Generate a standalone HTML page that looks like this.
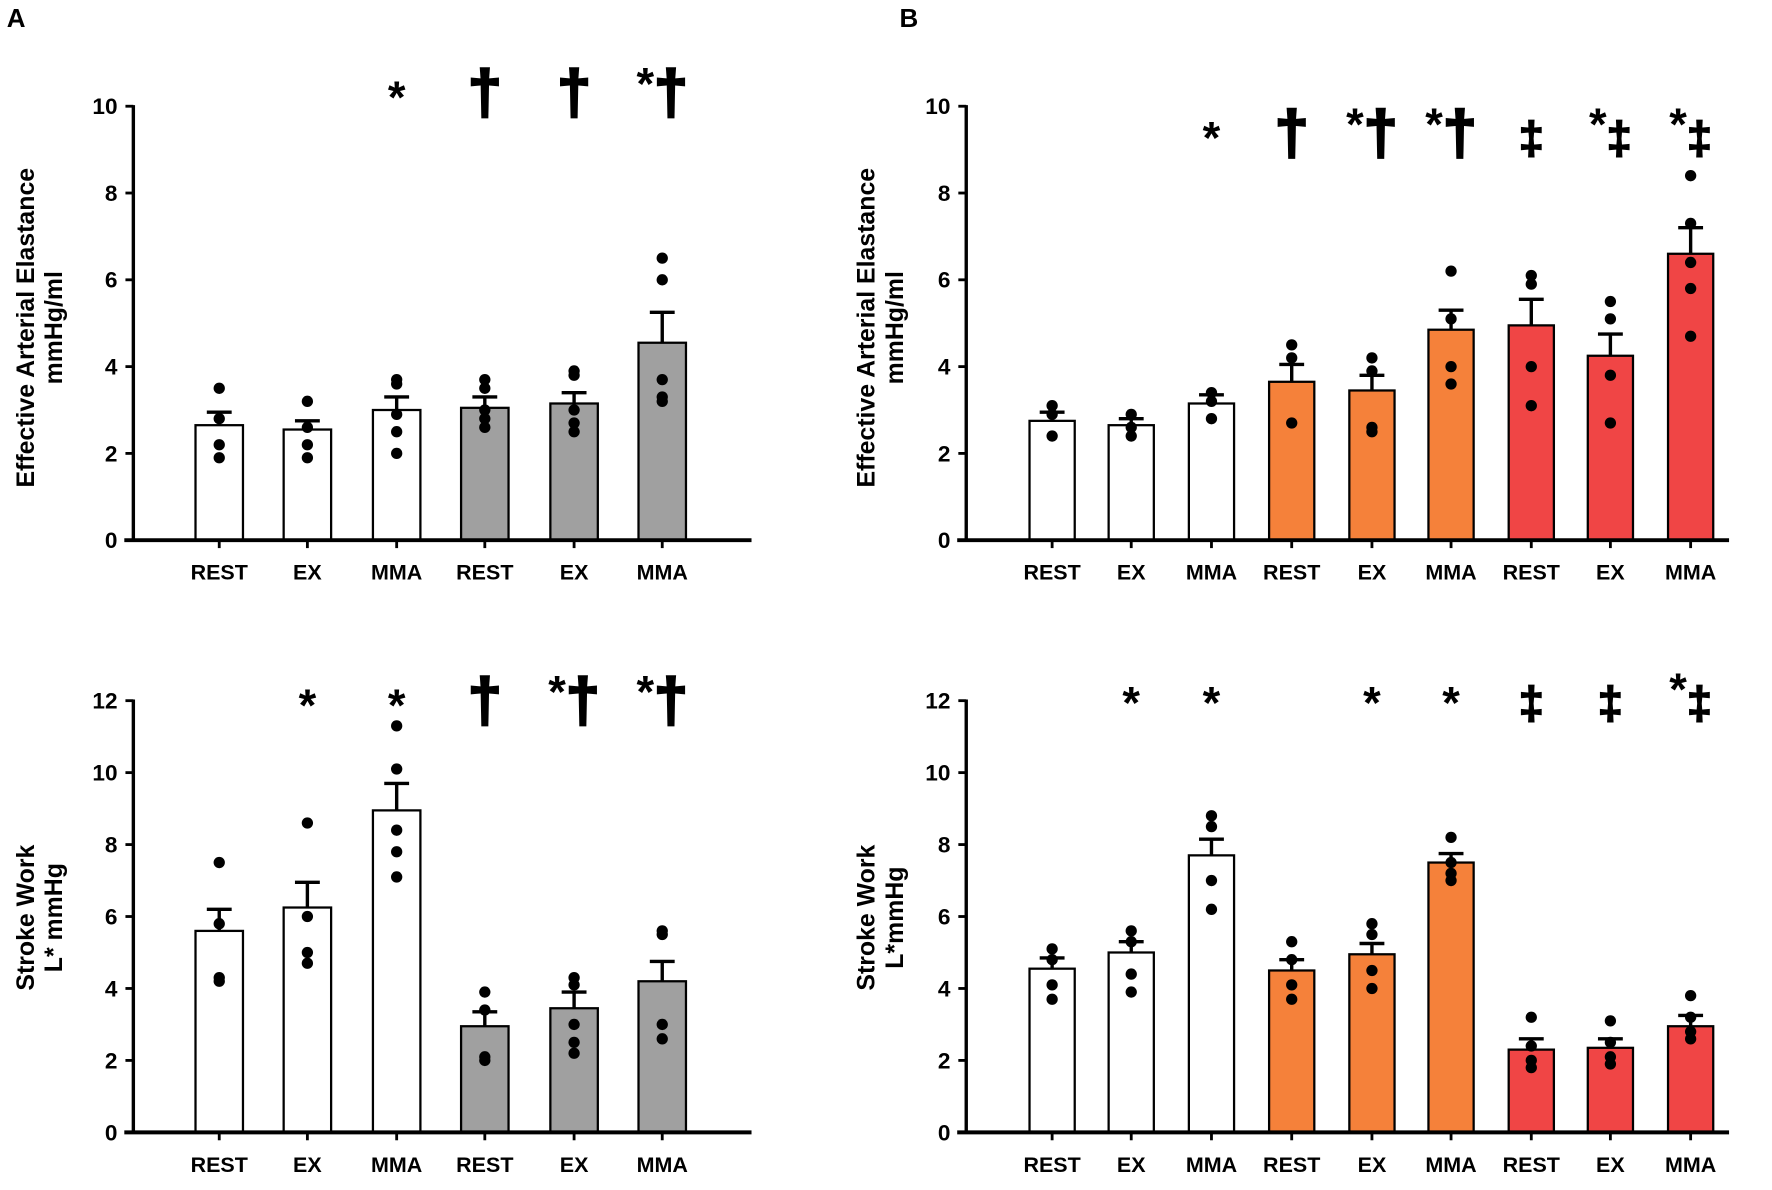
<!DOCTYPE html>
<html><head><meta charset="utf-8"><style>
html,body{margin:0;padding:0;background:#fff;}
svg{display:block;}
text{font-family:"Liberation Sans",Arial,sans-serif;font-weight:bold;fill:#000;}
</style></head><body>
<svg id="s" width="1772" height="1190" viewBox="0 0 1568 1053" preserveAspectRatio="none" xmlns="http://www.w3.org/2000/svg">
<text x="6" y="24" font-size="23">A</text>
<text x="796" y="24" font-size="23">B</text>
<g transform="translate(30,290) rotate(-90)"><text x="0" y="0" font-size="22" text-anchor="middle">Effective Arterial Elastance</text><text x="0" y="25" font-size="22" text-anchor="middle">mmHg/ml</text></g>
<g transform="translate(30,812) rotate(-90)"><text x="0" y="0" font-size="22" text-anchor="middle">Stroke Work</text><text x="0" y="25" font-size="22" text-anchor="middle">L* mmHg</text></g>
<g transform="translate(774,290) rotate(-90)"><text x="0" y="0" font-size="22" text-anchor="middle">Effective Arterial Elastance</text><text x="0" y="25" font-size="22" text-anchor="middle">mmHg/ml</text></g>
<g transform="translate(774,812) rotate(-90)"><text x="0" y="0" font-size="22" text-anchor="middle">Stroke Work</text><text x="0" y="25" font-size="22" text-anchor="middle">L*mmHg</text></g>
</svg>
<script>
var s=document.getElementById('s'),NS='http://www.w3.org/2000/svg';
function el(t,a,txt){var e=document.createElementNS(NS,t);for(var k in a)e.setAttribute(k,a[k]);if(txt!=null)e.textContent=txt;s.appendChild(e);return e;}
var W='#ffffff',G='#a0a0a0',O='#f5813a',R='#f04545';
function panel(p){
 var ys=function(v){return p.y0-(p.y0-p.yt)*v/p.max;};
 p.bars.forEach(function(b,i){
  var cx=p.cx[i],y=ys(b[0]),ye=ys(b[1]);
  el('line',{x1:cx,y1:y,x2:cx,y2:ye,stroke:'#000','stroke-width':3});
  el('line',{x1:cx-11,y1:ye,x2:cx+11,y2:ye,stroke:'#000','stroke-width':3});
  el('rect',{x:cx-p.bw/2,y:y,width:p.bw,height:p.y0-y,fill:p.col[i],stroke:'#000','stroke-width':2});
  b[2].forEach(function(d){el('circle',{cx:cx,cy:ys(d),r:5,fill:'#000'});});
  el('line',{x1:cx,y1:p.y0,x2:cx,y2:p.y0+7,stroke:'#000','stroke-width':2.5});
  el('text',{x:cx,y:p.y0+35,'font-size':19,'text-anchor':'middle'},p.lab[i]);
  if(p.sym[i]){var t=p.sym[i];
   var st=t.slice(0,1)=='*'?'*':'';var r=st?t.slice(1):t;
   var g=el('text',{x:cx,y:p.sy,'text-anchor':'middle'});
   if(st){var a=document.createElementNS(NS,'tspan');a.setAttribute('font-size',40);a.setAttribute('dy',r?-12:0);a.textContent='*';g.appendChild(a);}
   if(r){var b2=document.createElementNS(NS,'tspan');b2.setAttribute('font-size',r=='‡'?40:54);b2.setAttribute('dy',st?12:0);b2.setAttribute('stroke','#000');b2.setAttribute('stroke-width',r=='‡'?1.5:2.2);b2.textContent=r;g.appendChild(b2);}
  }
 });
 el('line',{x1:p.ax,y1:p.yt-1,x2:p.ax,y2:p.y0,stroke:'#000','stroke-width':3});
 el('line',{x1:p.ax-8,y1:p.y0,x2:p.xe,y2:p.y0,stroke:'#000','stroke-width':3.5});
 for(var v=0;v<=p.max;v+=2){var y=ys(v);
  el('line',{x1:p.ax-7,y1:y,x2:p.ax,y2:y,stroke:'#000','stroke-width':2.5});
  el('text',{x:p.ax-14,y:y+7,'font-size':20,'text-anchor':'end'},String(v));}
}
var labA=['REST','EX','MMA','REST','EX','MMA'],labB=['REST','EX','MMA','REST','EX','MMA','REST','EX','MMA'];
var cxA=[194,272,351,429,508,586],cxB=[931,1001,1072,1143,1214,1284,1355,1425,1496];
var colA=[W,W,W,G,G,G],colB=[W,W,W,O,O,O,R,R,R];
panel({ax:118,xe:665,y0:478,yt:94,max:10,bw:42,cx:cxA,lab:labA,col:colA,sy:100,
 sym:['','','*','†','†','*†'],
 bars:[[2.65,2.95,[3.5,2.8,2.2,1.9]],[2.55,2.75,[3.2,2.6,2.2,1.9]],[3.0,3.3,[3.7,3.6,2.9,2.5,2.0]],[3.05,3.3,[3.7,3.5,3.0,2.8,2.6]],[3.15,3.4,[3.9,3.8,3.0,2.7,2.5]],[4.55,5.25,[6.5,6.0,3.7,3.3,3.2]]]});
panel({ax:118,xe:665,y0:1002,yt:620,max:12,bw:42,cx:cxA,lab:labA,col:colA,sy:638,
 sym:['','*','*','†','*†','*†'],
 bars:[[5.6,6.2,[7.5,5.8,4.3,4.2]],[6.25,6.95,[8.6,6.0,5.0,4.7]],[8.95,9.7,[11.3,10.1,8.4,7.8,7.1]],[2.95,3.35,[3.9,3.4,2.1,2.0]],[3.45,3.9,[4.3,4.1,3.0,2.5,2.2]],[4.2,4.75,[5.6,5.5,3.0,2.6]]]});
panel({ax:855,xe:1530,y0:478,yt:94,max:10,bw:40,cx:cxB,lab:labB,col:colB,sy:136,
 sym:['','','*','†','*†','*†','‡','*‡','*‡'],
 bars:[[2.75,2.95,[3.1,2.9,2.4]],[2.65,2.8,[2.9,2.6,2.4]],[3.15,3.35,[3.4,3.2,2.8]],[3.65,4.05,[4.5,4.2,2.7]],[3.45,3.8,[4.2,3.9,2.6,2.5]],[4.85,5.3,[6.2,5.1,4.0,3.6]],[4.95,5.55,[6.1,5.9,4.0,3.1]],[4.25,4.75,[5.5,5.1,3.8,2.7]],[6.6,7.2,[8.4,7.3,6.4,5.8,4.7]]]});
panel({ax:855,xe:1530,y0:1002,yt:620,max:12,bw:40,cx:cxB,lab:labB,col:colB,sy:636,
 sym:['','*','*','','*','*','‡','‡','*‡'],
 bars:[[4.55,4.85,[5.1,4.8,4.1,3.7]],[5.0,5.3,[5.6,5.3,4.4,3.9]],[7.7,8.15,[8.8,8.5,7.0,6.2]],[4.5,4.8,[5.3,4.8,4.1,3.7]],[4.95,5.25,[5.8,5.5,4.5,4.0]],[7.5,7.75,[8.2,7.5,7.2,7.0]],[2.3,2.6,[3.2,2.4,2.0,1.8]],[2.35,2.6,[3.1,2.5,2.1,1.9]],[2.95,3.25,[3.8,3.2,2.8,2.6]]]});
</script>
</body></html>
